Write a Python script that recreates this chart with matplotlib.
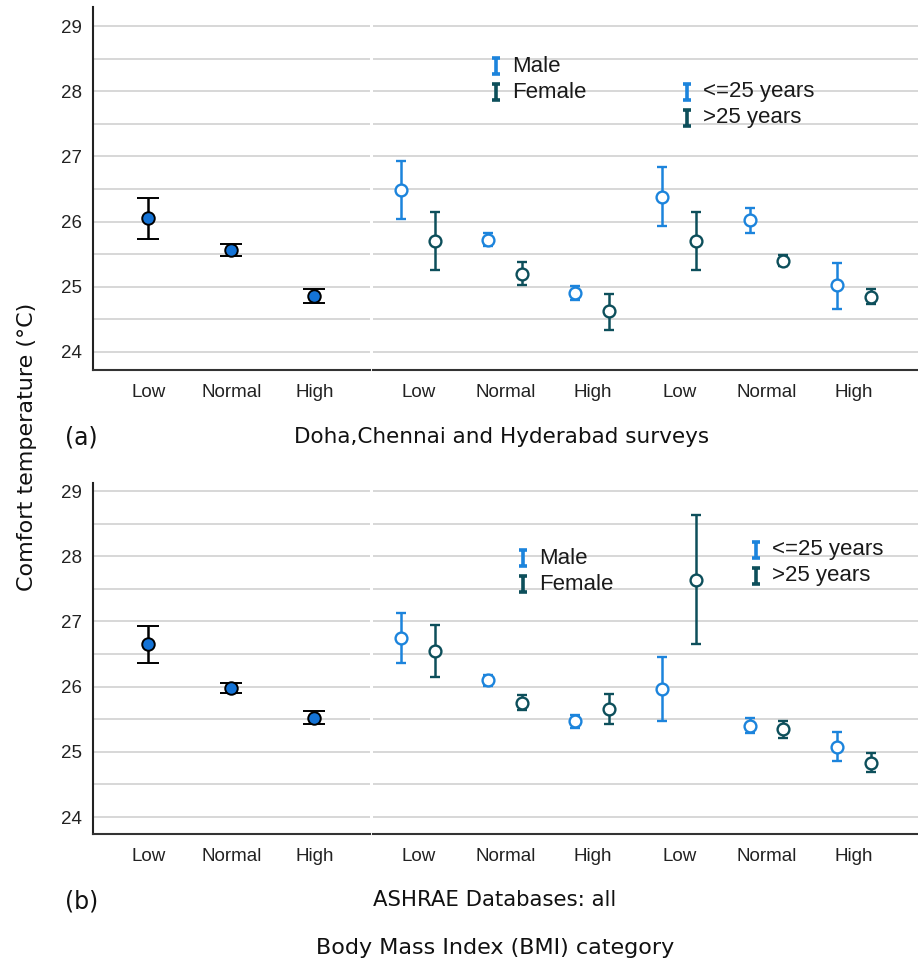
import matplotlib
matplotlib.use("Agg")
import matplotlib.pyplot as plt
from matplotlib.lines import Line2D
from matplotlib.path import Path

# BMI categories
bmi = ["Low", "Normal", "High"]

# (a) Doha, Chennai and Hyderabad surveys: mean and 95% CI
a_all = [26.05, 25.56, 24.85]
a_all_lo = [25.73, 25.47, 24.75]
a_all_hi = [26.36, 25.65, 24.96]

a_male = [26.48, 25.72, 24.91]
a_male_lo = [26.04, 25.62, 24.80]
a_male_hi = [26.93, 25.82, 25.01]
a_female = [25.70, 25.20, 24.62]
a_female_lo = [25.26, 25.02, 24.34]
a_female_hi = [26.14, 25.38, 24.89]

a_young = [26.38, 26.02, 25.02]
a_young_lo = [25.93, 25.83, 24.66]
a_young_hi = [26.83, 26.21, 25.37]
a_old = [25.70, 25.40, 24.84]
a_old_lo = [25.26, 25.31, 24.73]
a_old_hi = [26.14, 25.49, 24.96]

# (b) ASHRAE databases: all
b_all = [26.65, 25.98, 25.52]
b_all_lo = [26.37, 25.91, 25.42]
b_all_hi = [26.93, 26.06, 25.63]

b_male = [26.74, 26.10, 25.47]
b_male_lo = [26.36, 26.01, 25.37]
b_male_hi = [27.13, 26.18, 25.57]
b_female = [26.54, 25.75, 25.66]
b_female_lo = [26.15, 25.64, 25.42]
b_female_hi = [26.94, 25.87, 25.89]

b_young = [25.97, 25.40, 25.08]
b_young_lo = [25.48, 25.29, 24.86]
b_young_hi = [26.45, 25.52, 25.31]
b_old = [27.64, 25.35, 24.83]
b_old_lo = [26.66, 25.21, 24.69]
b_old_hi = [28.63, 25.47, 24.99]

yticks = [24, 25, 26, 27, 28, 29]

LIGHT = "#1c84dc"
DARK = "#0d4f5b"
FILL = "#1473d6"
GRID = "#d4d4d4"
TICKFONT = "Liberation Sans"

W, H = 918, 966
fig = plt.figure(figsize=(W / 100, H / 100), dpi=100)


def px(x0, y0, x1, y1):
    # pixel box (top-left origin) -> figure fraction rect
    return [x0 / W, 1 - y1 / H, (x1 - x0) / W, (y1 - y0) / H]


def style(ax, ylim, left_spine):
    ax.set_ylim(*ylim)
    for y in [v / 2 for v in range(48, 59)]:
        ax.axhline(y, color=GRID, lw=1.3, zorder=0)
    for s in ["top", "right"]:
        ax.spines[s].set_visible(False)
    ax.spines["left"].set_visible(left_spine)
    ax.spines["bottom"].set_color("#333333")
    ax.spines["bottom"].set_linewidth(1.5)
    ax.spines["left"].set_color("#222222")
    ax.spines["left"].set_linewidth(1.5)
    ax.tick_params(axis="both", length=0, labelsize=13.5, colors="#222222")
    ax.tick_params(axis="x", pad=10)
    ax.tick_params(axis="y", pad=8)
    if left_spine:
        ax.set_yticks(yticks)
        for t in ax.get_yticklabels():
            t.set_fontfamily(TICKFONT)
    else:
        ax.set_yticks([])


def err(lo, mid, hi):
    return [[m - l for m, l in zip(mid, lo)], [h - m for m, h in zip(mid, hi)]]


def overall(ax, mid, lo, hi):
    x = list(range(len(bmi)))
    ax.errorbar(x, mid, yerr=err(lo, mid, hi), fmt="o", color="black",
                ecolor="black", elinewidth=1.8, capsize=8, capthick=1.8,
                markersize=9, markerfacecolor=FILL, markeredgecolor="black",
                markeredgewidth=1.4, zorder=3)
    ax.set_xlim(-0.67, 2.67)
    ax.set_xticks(x)
    ax.set_xticklabels(bmi, fontfamily=TICKFONT)


def grouped(ax, groups):
    off = 0.195
    for g, (m1, l1, h1, m2, l2, h2) in enumerate(groups):
        x = [g * 3 + i for i in range(len(bmi))]
        for xs, mid, lo, hi, c in [([v - off for v in x], m1, l1, h1, LIGHT),
                                   ([v + off for v in x], m2, l2, h2, DARK)]:
            ax.errorbar(xs, mid, yerr=err(lo, mid, hi), fmt="o", color=c,
                        elinewidth=1.8, capsize=3.4, capthick=1.8,
                        markersize=8.5, markerfacecolor="white",
                        markeredgecolor=c, markeredgewidth=1.7, zorder=3)
    ax.set_xlim(-0.52, 5.74)
    ax.set_xticks(range(6))
    ax.set_xticklabels(bmi * 2, fontfamily=TICKFONT)


IBAR = Path([(-0.5, -1), (0.5, -1), (0, -1), (0, 1), (-0.5, 1), (0.5, 1)],
            [Path.MOVETO, Path.LINETO, Path.MOVETO, Path.LINETO, Path.MOVETO, Path.LINETO])


def key(x, y, color, label):
    fig.add_artist(Line2D([x / W], [1 - y / H], marker=IBAR, markersize=12,
                          markeredgewidth=2.6, color=color, linestyle="none"))
    fig.text((x + 16) / W, 1 - y / H, label, fontsize=16, fontfamily=TICKFONT,
             color="#1a1a1a", va="center", ha="left")


# panel (a)
ax1 = fig.add_axes(px(92.7, 7.3, 370, 370))
style(ax1, (23.72, 29.29), True)
overall(ax1, a_all, a_all_lo, a_all_hi)

ax2 = fig.add_axes(px(373, 7.3, 918, 370))
style(ax2, (23.72, 29.29), False)
grouped(ax2, [(a_male, a_male_lo, a_male_hi, a_female, a_female_lo, a_female_hi),
              (a_young, a_young_lo, a_young_hi, a_old, a_old_lo, a_old_hi)])

key(496, 66, LIGHT, "Male")
key(496, 92, DARK, "Female")
key(687, 92, LIGHT, "<=25 years")
key(687, 118, DARK, ">25 years")

# panel (b)
ax3 = fig.add_axes(px(92.7, 483.3, 370, 834))
style(ax3, (23.74, 29.12), True)
overall(ax3, b_all, b_all_lo, b_all_hi)

ax4 = fig.add_axes(px(373, 483.3, 918, 834))
style(ax4, (23.74, 29.12), False)
grouped(ax4, [(b_male, b_male_lo, b_male_hi, b_female, b_female_lo, b_female_hi),
              (b_young, b_young_lo, b_young_hi, b_old, b_old_lo, b_old_hi)])

key(523, 558, LIGHT, "Male")
key(523, 584, DARK, "Female")
key(756, 550, LIGHT, "<=25 years")
key(756, 576, DARK, ">25 years")

# captions and shared labels
LABELFONT = "DejaVu Sans"
fig.text(65 / W, 1 - 437 / H, "(a)", fontsize=17, fontfamily=LABELFONT,
         va="center", ha="left", color="#111111")
fig.text(65 / W, 1 - 901 / H, "(b)", fontsize=17, fontfamily=LABELFONT,
         va="center", ha="left", color="#111111")
fig.text(502 / W, 1 - 437 / H, "Doha,Chennai and Hyderabad surveys", fontsize=15.5,
         fontfamily=LABELFONT, va="center", ha="center", color="#111111")
fig.text(495 / W, 1 - 900 / H, "ASHRAE Databases: all", fontsize=15.3,
         fontfamily=LABELFONT, va="center", ha="center", color="#111111")
fig.text(495 / W, 1 - 948 / H, "Body Mass Index (BMI) category", fontsize=16,
         fontfamily=LABELFONT, va="center", ha="center", color="#111111")
fig.text(27 / W, 1 - 447 / H, "Comfort temperature (\u00b0C)", fontsize=16,
         fontfamily=LABELFONT, rotation=90, va="center", ha="center", color="#111111")

fig.savefig("out.png", dpi=100)
